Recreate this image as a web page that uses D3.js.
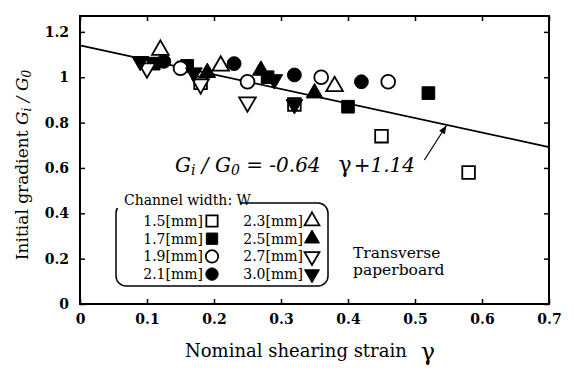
<!DOCTYPE html>
<html>
<head>
<meta charset="utf-8">
<script src="https://cdn.jsdelivr.net/npm/d3@7"></script>
<style>
  body { margin: 0; background: #fff; }
  svg { display: block; }
</style>
</head>
<body>
<div id="chart"></div>
<script>
// axis ticks
const xTicks = [0, 0.1, 0.2, 0.3, 0.4, 0.5, 0.6, 0.7];
const yTicks = [0, 0.2, 0.4, 0.6, 0.8, 1, 1.2];

// channel widths (legend order) and their marker types
const widths = ["1.5", "1.7", "1.9", "2.1", "2.3", "2.5", "2.7", "3.0"];
const shapes = ["square", "square", "circle", "circle", "up", "up", "down", "down"];
const filled = [false, true, false, true, false, true, false, true];

// [gamma, Gi/G0]
const w15 = [[0.18, 0.975], [0.32, 0.88], [0.45, 0.74], [0.58, 0.58]];
const w17 = [[0.11, 1.06], [0.16, 1.05], [0.28, 1.00], [0.40, 0.87], [0.52, 0.93]];
const w19 = [[0.15, 1.04], [0.25, 0.98], [0.36, 1.00], [0.46, 0.98]];
const w21 = [[0.125, 1.07], [0.23, 1.06], [0.32, 1.01], [0.42, 0.98]];
const w23 = [[0.12, 1.12], [0.21, 1.05], [0.38, 0.96]];
const w25 = [[0.19, 1.02], [0.27, 1.03], [0.35, 0.93]];
const w27 = [[0.10, 1.04], [0.18, 0.97], [0.25, 0.89]];
const w30 = [[0.09, 1.07], [0.17, 1.02], [0.29, 0.99], [0.32, 0.88]];
const series = [w15, w17, w19, w21, w23, w25, w27, w30];

// fitted line Gi/G0 = a*gamma + b
const fitSlope = -0.64, fitIntercept = 1.14;
// arrow pointing from equation to the line
const arrowFrom = [0.514, 0.635], arrowTo = [0.547, 0.787];

const width = 574, height = 376;
const margin = {top: 16, right: 25, bottom: 72, left: 80};
const serif = "DejaVu Serif, serif";

const svg = d3.select("#chart").append("svg")
    .attr("width", width).attr("height", height)
    .attr("font-family", serif);

const x = d3.scaleLinear().domain([0, 0.7]).range([margin.left, width - margin.right]);
const y = d3.scaleLinear().domain([0, 1.27]).range([height - margin.bottom, margin.top]);

const symType = {square: d3.symbolSquare, circle: d3.symbolCircle, up: d3.symbolTriangle, down: d3.symbolTriangle};
const symSize = {square: 160, circle: 150, up: 120, down: 120};

function marker(g, shape, isFilled, scale) {
    g.append("path")
        .attr("d", d3.symbol().type(symType[shape]).size(symSize[shape] * scale)())
        .attr("transform", shape === "down" ? "rotate(180)" : null)
        .attr("fill", isFilled ? "#000" : "#fff")
        .attr("stroke", "#000")
        .attr("stroke-width", isFilled ? 1 : 1.8);
}

// axes with inward ticks
const fmt = d => d === 0 ? "0" : d3.format("")(d);
svg.append("g")
    .attr("transform", `translate(0,${y(0)})`)
    .call(d3.axisBottom(x).tickValues(xTicks).tickSize(-5).tickPadding(10).tickFormat(fmt));
svg.append("g")
    .attr("transform", `translate(${x(0)},0)`)
    .call(d3.axisLeft(y).tickValues(yTicks).tickSize(-5).tickPadding(11).tickFormat(fmt));
svg.append("g")
    .attr("transform", `translate(0,${y.range()[1]})`)
    .call(d3.axisTop(x).tickValues(xTicks).tickSize(-5).tickFormat(""));
svg.append("g")
    .attr("transform", `translate(${x(0.7)},0)`)
    .call(d3.axisRight(y).tickValues(yTicks).tickSize(-5).tickFormat(""));

svg.selectAll(".domain").remove();
svg.selectAll("g").attr("font-family", serif);
svg.selectAll(".tick line").attr("stroke", "#000").attr("stroke-width", 1.5);
svg.selectAll(".tick text")
    .attr("font-size", 14).attr("font-weight", "bold").attr("fill", "#000");

svg.append("rect")
    .attr("x", x(0)).attr("y", y(1.27))
    .attr("width", x(0.7) - x(0)).attr("height", y(0) - y(1.27))
    .attr("fill", "none").attr("stroke", "#000").attr("stroke-width", 2);

// fitted line
svg.append("line")
    .attr("x1", x(0)).attr("y1", y(fitIntercept))
    .attr("x2", x(0.7)).attr("y2", y(fitIntercept + fitSlope * 0.7))
    .attr("stroke", "#000").attr("stroke-width", 1.8);

// points
series.forEach((pts, i) => {
    pts.forEach(p => {
        const g = svg.append("g").attr("transform", `translate(${x(p[0])},${y(p[1])})`);
        marker(g, shapes[i], filled[i], 1);
    });
});

// arrow
svg.append("defs").append("marker")
    .attr("id", "ah").attr("viewBox", "0 0 10 10").attr("refX", 10).attr("refY", 5)
    .attr("markerWidth", 7).attr("markerHeight", 7).attr("orient", "auto")
    .append("path").attr("d", "M0,1 L10,5 L0,9 Z").attr("fill", "#000");
svg.append("line")
    .attr("x1", x(arrowFrom[0])).attr("y1", y(arrowFrom[1]))
    .attr("x2", x(arrowTo[0])).attr("y2", y(arrowTo[1]))
    .attr("stroke", "#000").attr("stroke-width", 1.2).attr("marker-end", "url(#ah)");

// equation
const eq = svg.append("text").attr("x", 175).attr("y", 172)
    .attr("font-size", 20).attr("font-style", "italic");
eq.append("tspan").text("G");
eq.append("tspan").attr("font-size", 14).attr("dy", 3).text("i");
eq.append("tspan").attr("dy", -3).text(" / G");
eq.append("tspan").attr("font-size", 14).attr("dy", 3).text("0");
eq.append("tspan").attr("dy", -3).text(" = -0.64");
eq.append("tspan").attr("dx", 18).attr("font-style", "normal").attr("font-size", 22).text("γ");
eq.append("tspan").attr("dx", 2).text("+1.14");

// legend
const lg = svg.append("g");
lg.append("rect")
    .attr("x", 116).attr("y", 203).attr("width", 212).attr("height", 83).attr("rx", 10)
    .attr("fill", "none").attr("stroke", "#000").attr("stroke-width", 1.5);
lg.append("rect").attr("x", 115).attr("y", 190).attr("width", 125).attr("height", 18).attr("fill", "#fff");
lg.append("text").attr("x", 124).attr("y", 205).attr("font-size", 14).text("Channel width: W");

widths.forEach((w, i) => {
    const col = Math.floor(i / 4), row = i % 4;
    const by = 226 + row * 17.7;
    const mx = col === 0 ? 212 : 312;
    lg.append("text")
        .attr("x", mx - 9).attr("y", by)
        .attr("text-anchor", "end").attr("font-size", 14)
        .text(w + "[mm]");
    const g = lg.append("g").attr("transform", `translate(${mx},${by - 5})`);
    marker(g, shapes[i], filled[i], 0.8);
});

// board note
const note = svg.append("text").attr("font-size", 15.5);
note.append("tspan").attr("x", 353).attr("y", 258).text("Transverse");
note.append("tspan").attr("x", 353).attr("y", 275).text("paperboard");

// axis titles
const xt = svg.append("text").attr("x", 185).attr("y", 357).attr("font-size", 18);
xt.append("tspan").text("Nominal shearing strain");
xt.append("tspan").attr("dx", 14).attr("dy", 3).attr("font-size", 24).text("γ");

const yt = svg.append("text")
    .attr("transform", `translate(28,${(y(0) + y(1.27)) / 2 + 5}) rotate(-90)`)
    .attr("text-anchor", "middle").attr("font-size", 17);
yt.append("tspan").text("Initial gradient  ");
yt.append("tspan").attr("font-style", "italic").text("G");
yt.append("tspan").attr("font-style", "italic").attr("font-size", 12).attr("dy", 3).text("i");
yt.append("tspan").attr("font-style", "italic").attr("dy", -3).text(" / G");
yt.append("tspan").attr("font-style", "italic").attr("font-size", 12).attr("dy", 3).text("0");
</script>
</body>
</html>
